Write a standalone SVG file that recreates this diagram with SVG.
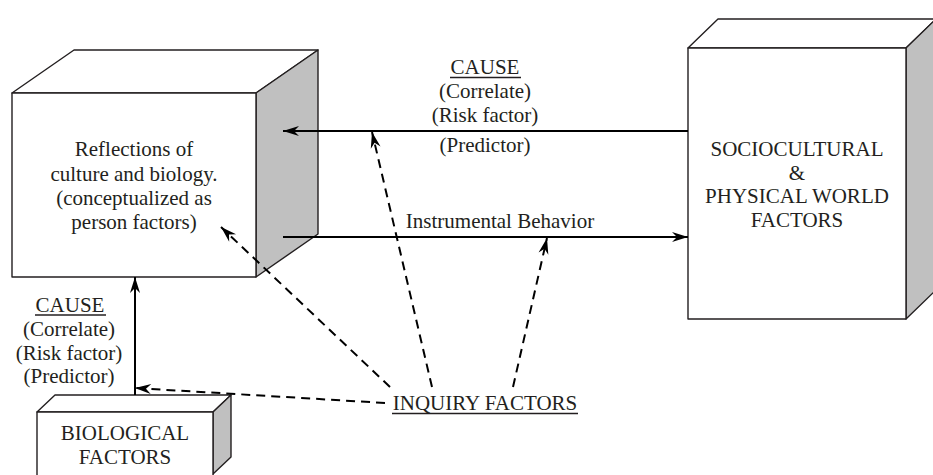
<svg xmlns="http://www.w3.org/2000/svg" width="933" height="475" viewBox="0 0 933 475">
<style>
.face{fill:#ffffff;stroke:#231f20;stroke-width:1.4;stroke-linejoin:round}
.side{fill:#c0c0c0;stroke:#231f20;stroke-width:1.4;stroke-linejoin:round}
.t{font-family:"Liberation Serif","Times New Roman",serif;font-size:21px;fill:#231f20;text-anchor:middle}
.solid{stroke:#000;stroke-width:2;fill:none}
.dash{stroke:#000;stroke-width:2;fill:none;stroke-dasharray:9 6}
.ul{stroke:#231f20;stroke-width:1.3}
</style>
<defs>
<marker id="ah" markerUnits="userSpaceOnUse" markerWidth="17" markerHeight="11" refX="16" refY="5" orient="auto" overflow="visible">
<path d="M16,5 L0,0 L5,5 L0,10 Z" fill="#000" stroke="none"/>
</marker>
</defs>
<rect width="933" height="475" fill="#ffffff"/>
<g id="person-factors">
<polygon class="face" points="12,93 74,50 318,50 256,93"/>
<polygon class="side" points="256,93 318,50 318,234 256,277"/>
<rect class="face" x="12" y="93" width="244" height="184"/>
<text class="t" x="134" y="156">Reflections of</text>
<text class="t" x="134" y="181">culture and biology.</text>
<text class="t" x="134" y="205">(conceptualized as</text>
<text class="t" x="134" y="229">person factors)</text>
</g>
<g id="sociocultural">
<polygon class="face" points="688,48 718,19 936,19 906,48"/>
<polygon class="side" points="906,48 936,19 936,290 906,319"/>
<rect class="face" x="688" y="48" width="218" height="271"/>
<text class="t" x="797" y="156">SOCIOCULTURAL</text>
<text class="t" x="797" y="180">&amp;</text>
<text class="t" x="797" y="203">PHYSICAL WORLD</text>
<text class="t" x="797" y="227">FACTORS</text>
</g>
<g id="biological">
<polygon class="face" points="37,412 55,395 231,395 213,412"/>
<polygon class="side" points="213,412 231,395 231,457 213,474"/>
<rect class="face" x="37" y="412" width="176" height="70"/>
<text class="t" x="125" y="440">BIOLOGICAL</text>
<text class="t" x="125" y="464">FACTORS</text>
</g>
<g id="inquiry">
<text class="t" x="485" y="410">INQUIRY FACTORS</text>
<line class="ul" x1="392" y1="413.5" x2="578" y2="413.5"/>
</g>
<g id="connectors">
<line class="solid" x1="688" y1="131" x2="283" y2="131" marker-end="url(#ah)"/>
<line class="solid" x1="283" y1="237" x2="688" y2="237" marker-end="url(#ah)"/>
<line class="solid" x1="135" y1="395" x2="135" y2="277" marker-end="url(#ah)"/>
<line class="dash" x1="390" y1="387" x2="221" y2="227" marker-end="url(#ah)"/>
<line class="dash" x1="432" y1="387" x2="372" y2="132" marker-end="url(#ah)"/>
<line class="dash" x1="513" y1="387" x2="547" y2="238" marker-end="url(#ah)"/>
<line class="dash" x1="385" y1="403" x2="135" y2="388" marker-end="url(#ah)"/>
</g>
<g id="labels">
<text class="t" x="485" y="74">CAUSE</text>
<line class="ul" x1="450" y1="77.5" x2="521" y2="77.5"/>
<text class="t" x="485" y="98">(Correlate)</text>
<text class="t" x="485" y="122">(Risk factor)</text>
<text class="t" x="485" y="152">(Predictor)</text>
<text class="t" x="500" y="228">Instrumental Behavior</text>
<text class="t" x="70" y="312">CAUSE</text>
<line class="ul" x1="35" y1="315" x2="106" y2="315"/>
<text class="t" x="69" y="336">(Correlate)</text>
<text class="t" x="69" y="360">(Risk factor)</text>
<text class="t" x="69" y="383">(Predictor)</text>
</g>
</svg>
